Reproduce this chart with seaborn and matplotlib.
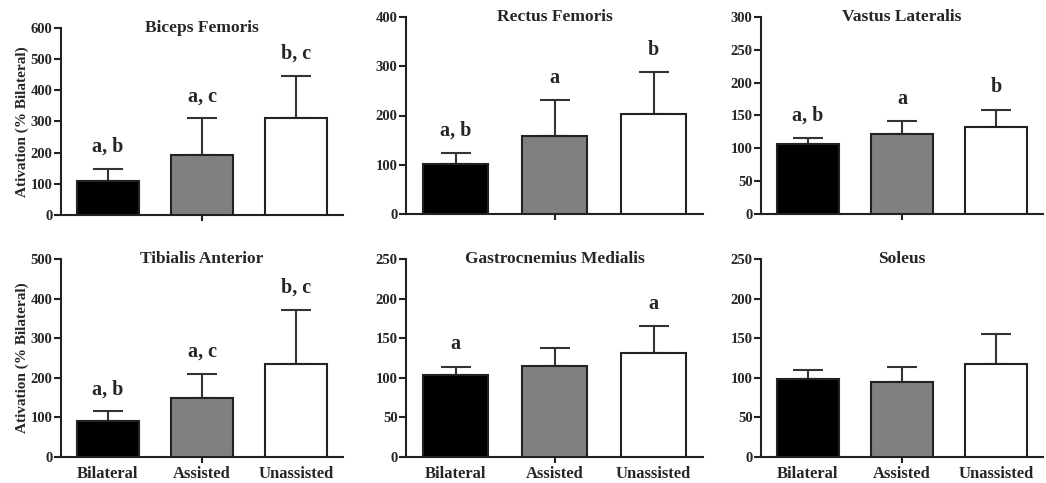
import numpy as np
import pandas as pd
import matplotlib
matplotlib.use("Agg")
import matplotlib.pyplot as plt
import seaborn as sns

conditions = ["Bilateral", "Assisted", "Unassisted"]
muscles = ["Biceps Femoris", "Rectus Femoris", "Vastus Lateralis",
           "Tibialis Anterior", "Gastrocnemius Medialis", "Soleus"]

bf_mean = [108, 194, 310]
bf_sd = [41, 116, 135]
rf_mean = [102, 158, 203]
rf_sd = [22, 73, 85]
vl_mean = [106, 122, 133]
vl_sd = [10, 19, 26]
ta_mean = [92, 149, 236]
ta_sd = [23, 61, 135]
gm_mean = [103, 115, 131]
gm_sd = [11, 23, 34]
so_mean = [99, 95, 117]
so_sd = [11, 19, 38]

bf_letters = ["a, b", "a, c", "b, c"]
rf_letters = ["a, b", "a", "b"]
vl_letters = ["a, b", "a", "b"]
ta_letters = ["a, b", "a, c", "b, c"]
gm_letters = ["a", "", "a"]
so_letters = ["", "", ""]

y_max = [600, 400, 300, 500, 250, 250]
y_step = [100, 100, 50, 100, 50, 50]

means = [bf_mean, rf_mean, vl_mean, ta_mean, gm_mean, so_mean]
sds = [bf_sd, rf_sd, vl_sd, ta_sd, gm_sd, so_sd]
letters = [bf_letters, rf_letters, vl_letters, ta_letters, gm_letters, so_letters]

sns.set_style("ticks")
plt.rcParams['font.family'] = ['Liberation Serif', 'DejaVu Serif']
plt.rcParams['font.weight'] = 'bold'

W, H = 1046, 483
fig = plt.figure(figsize=(W / 100, H / 100), dpi=100)

# (left, top, width, height) in pixels
boxes = [(61, 28, 282, 187), (406, 17, 297, 197), (761, 17, 282, 197),
         (61, 259, 282, 198), (406, 259, 297, 198), (761, 259, 282, 198)]

palette = {"Bilateral": "#000000", "Assisted": "#808080", "Unassisted": "#ffffff"}

for i in range(6):
    l, t, w, h = boxes[i]
    ax = fig.add_axes([l / W, 1 - (t + h) / H, w / W, h / H])
    df = pd.DataFrame({"cond": conditions, "val": means[i], "sd": sds[i]})
    sns.barplot(data=df, x="cond", y="val", hue="cond", palette=palette,
                order=conditions, hue_order=conditions, width=0.66,
                errorbar=None, edgecolor="#222222", linewidth=1.5,
                legend=False, ax=ax, zorder=3)
    xs = np.arange(3)
    ax.errorbar(xs, df["val"], yerr=[np.zeros(3), df["sd"]], fmt="none",
                ecolor="#333333", elinewidth=1.5, capsize=11, capthick=1.5,
                zorder=2)
    for x, m, s, lab in zip(xs, df["val"], df["sd"], letters[i]):
        if lab:
            ax.annotate(lab, (x, m + s), xytext=(0, 16), textcoords="offset points",
                        ha="center", va="center", fontsize=14.5, fontweight="bold")
    ax.set_xlim(-0.5, 2.5)
    ax.set_ylim(0, y_max[i])
    ax.set_yticks(np.arange(0, y_max[i] + 1, y_step[i]))
    ax.tick_params(axis="y", length=5, width=1.5, labelsize=10.5, pad=1, color="#222222")
    for lbl in ax.get_yticklabels():
        lbl.set_fontweight("bold")
    ax.set_xticks(xs)
    if i < 3:
        ax.set_xticklabels([])
    else:
        ax.set_xticklabels(conditions, fontweight="bold")
    ax.tick_params(axis="x", which="major", length=4.5, width=1.5,
                   color="#222222", labelsize=12, pad=2)
    ax.set_xlabel("")
    if i % 3 == 0:
        ax.set_ylabel("Ativation (% Bilateral)", fontsize=11, fontweight="bold", labelpad=1)
    else:
        ax.set_ylabel("")
    ax.set_title(muscles[i], fontsize=12.5, fontweight="bold", y=1.0, va="center", pad=0)
    for side in ["top", "right"]:
        ax.spines[side].set_visible(False)
    for side in ["left", "bottom"]:
        ax.spines[side].set_linewidth(1.5)
        ax.spines[side].set_color("#222222")
    mt = ax.xaxis.get_major_ticks()
    for k in (0, 2):
        mt[k].tick1line.set_visible(False)

fig.savefig("out.png", dpi=100)
